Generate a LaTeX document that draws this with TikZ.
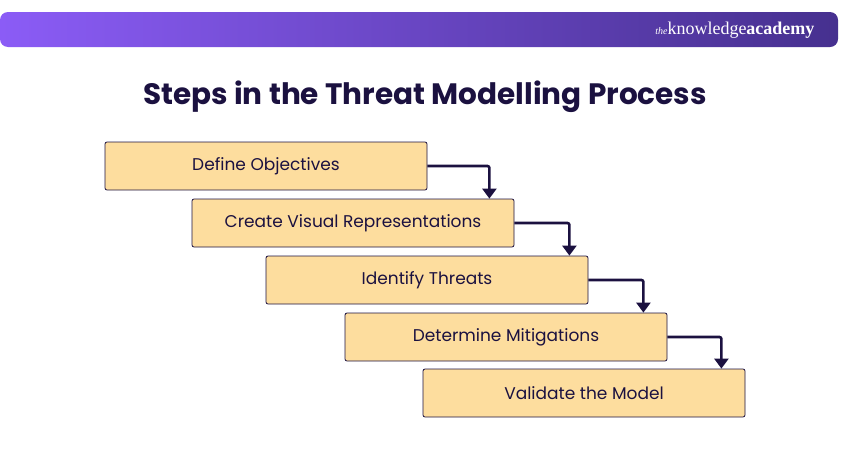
\documentclass[tikz,border=0pt]{standalone}
\usepackage{fontspec}
\setmainfont{Poppins}
\newfontfamily\logofont{Liberation Serif}
\usetikzlibrary{positioning, arrows.meta}
\definecolor{navy}{HTML}{1B1140}
\definecolor{boxfill}{HTML}{FDDD9E}
\definecolor{bannerL}{HTML}{8B5CF6}
\definecolor{bannerR}{HTML}{46308F}
\tikzset{
x=1pt, y=-1pt,
stepbox/.style={draw=navy, fill=boxfill, rounded corners=2pt, line width=0.8pt,
  minimum width=322pt, minimum height=48pt, font=\fontsize{17}{20}\selectfont, text=navy}, % each step box
flow/.style={draw=navy, line width=2.6pt, rounded corners=2pt, -{Triangle[length=10pt,width=14pt]}}, % step arrows
}
\begin{document}
\begin{tikzpicture}
    \useasboundingbox (0,0) rectangle (850,450);
    \shade[left color=bannerL, right color=bannerR, rounded corners=8pt] (0,12) rectangle (838,47);
    \node[anchor=east, text=white, font=\logofont\fontsize{18}{20}\selectfont] (logo) at (818,30)
      {{\itshape\fontsize{10}{12}\selectfont the}knowledge\textbf{academy}};
    \node[font=\bfseries\fontsize{29.5}{34}\selectfont, text=navy] (title) at (425,97) {Steps in the Threat Modelling Process};
    \node[stepbox] (s1) at (266,166) {Define Objectives};
    \node[stepbox] (s2) at (353,223) {Create Visual Representations};
    \node[stepbox] (s3) at (427,280) {Identify Threats};
    \node[stepbox] (s4) at (506,337) {Determine Mitigations};
    \node[stepbox] (s5) at (584,393) {Validate the Model};
    \draw[flow] (s1.east) -| ([xshift=-25pt]s2.north east);
    \draw[flow] (s2.east) -| ([xshift=-19pt]s3.north east);
    \draw[flow] (s3.east) -| ([xshift=-24pt]s4.north east);
    \draw[flow] (s4.east) -| ([xshift=-24pt]s5.north east);
\end{tikzpicture}
\end{document}
